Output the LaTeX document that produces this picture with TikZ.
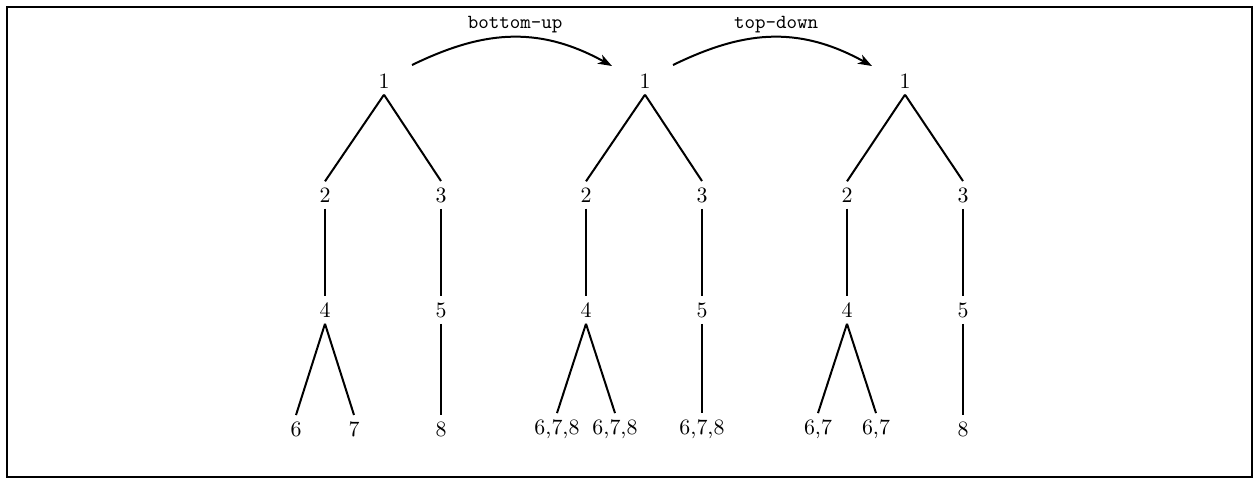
\documentclass[tikz,border=0pt]{standalone}
\usepackage{tikz}
\usetikzlibrary{arrows.meta,positioning}

\tikzset{
  tnode/.style={inner sep=3pt, font=\fontsize{10.95}{13}\selectfont},
  tedge/.style={black, line width=1pt},
  passarrow/.style={black, line width=1pt, -{Stealth[length=7pt,width=5pt,inset=2pt]}},
  passlabel/.style={font=\ttfamily}
}

\begin{document}
\begin{tikzpicture}
				\useasboundingbox (0,0) rectangle (629.5pt,-241.5pt);
				\draw[line width=1.2pt] (3.5pt,-3.5pt) rectangle (626pt,-238.5pt);
				% tree before
				\node[tnode] (a1) at (192pt,-40.5pt) {1};
				\node[tnode] (a2) at (162.5pt,-97.5pt) {2};
				\node[tnode] (a3) at (220.5pt,-97.5pt) {3};
				\node[tnode] (a4) at (162.5pt,-155pt) {4};
				\node[tnode] (a5) at (220.5pt,-155pt) {5};
				\node[tnode] (a6) at (148pt,-214.5pt) {6};
				\node[tnode] (a7) at (177pt,-214.5pt) {7};
				\node[tnode] (a8) at (220.5pt,-214.5pt) {8};
				\draw[tedge] (a1.south) -- (a2.north);
				\draw[tedge] (a1.south) -- (a3.north);
				\draw[tedge] (a2.south) -- (a4.north);
				\draw[tedge] (a3.south) -- (a5.north);
				\draw[tedge] (a4.south) -- (a6.north);
				\draw[tedge] (a4.south) -- (a7.north);
				\draw[tedge] (a5.south) -- (a8.north);
				% tree after bottom-up
				\node[tnode] (b1) at (322.5pt,-40.5pt) {1};
				\node[tnode] (b2) at (293pt,-97.5pt) {2};
				\node[tnode] (b3) at (351pt,-97.5pt) {3};
				\node[tnode] (b4) at (293pt,-155pt) {4};
				\node[tnode] (b5) at (351pt,-155pt) {5};
				\node[tnode] (b6) at (278.5pt,-214.5pt) {6,7,8};
				\node[tnode] (b7) at (307.5pt,-214.5pt) {6,7,8};
				\node[tnode] (b8) at (351pt,-214.5pt) {6,7,8};
				\draw[tedge] (b1.south) -- (b2.north);
				\draw[tedge] (b1.south) -- (b3.north);
				\draw[tedge] (b2.south) -- (b4.north);
				\draw[tedge] (b3.south) -- (b5.north);
				\draw[tedge] (b4.south) -- (b6.north);
				\draw[tedge] (b4.south) -- (b7.north);
				\draw[tedge] (b5.south) -- (b8.north);
				% tree after top-down
				\node[tnode] (c1) at (452.5pt,-40.5pt) {1};
				\node[tnode] (c2) at (423.5pt,-97.5pt) {2};
				\node[tnode] (c3) at (481.5pt,-97.5pt) {3};
				\node[tnode] (c4) at (423.5pt,-155pt) {4};
				\node[tnode] (c5) at (481.5pt,-155pt) {5};
				\node[tnode] (c6) at (409pt,-214.5pt) {6,7};
				\node[tnode] (c7) at (438pt,-214.5pt) {6,7};
				\node[tnode] (c8) at (481.5pt,-214.5pt) {8};
				\draw[tedge] (c1.south) -- (c2.north);
				\draw[tedge] (c1.south) -- (c3.north);
				\draw[tedge] (c2.south) -- (c4.north);
				\draw[tedge] (c3.south) -- (c5.north);
				\draw[tedge] (c4.south) -- (c6.north);
				\draw[tedge] (c4.south) -- (c7.north);
				\draw[tedge] (c5.south) -- (c8.north);
				% passes
				\coordinate (up0) at (206pt,-32.5pt);
				\coordinate (up1) at (306pt,-33pt);
				\coordinate (dn0) at (336.5pt,-32.5pt);
				\coordinate (dn1) at (436pt,-33pt);
				\draw[passarrow] (up0) .. controls (240pt,-16pt) and (268pt,-12pt) .. (up1);
				\draw[passarrow] (dn0) .. controls (370.5pt,-16pt) and (398pt,-12pt) .. (dn1);
				\node[passlabel] (uplab) at (257.5pt,-12.5pt) {bottom-up};
				\node[passlabel] (dnlab) at (388pt,-12.5pt) {top-down};
			\end{tikzpicture}
\end{document}
